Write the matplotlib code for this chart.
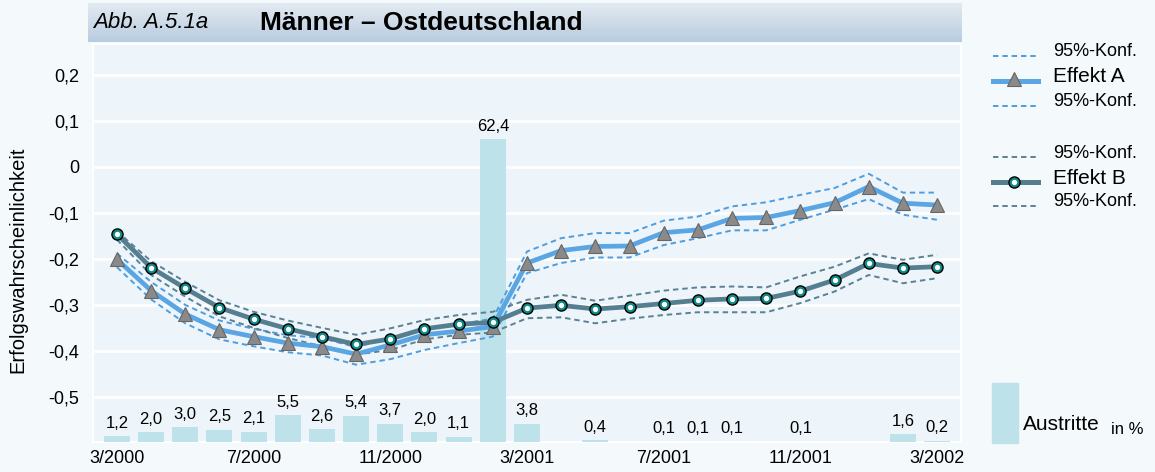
import numpy as np
import matplotlib.pyplot as plt
from matplotlib.colors import LinearSegmentedColormap
from matplotlib.patches import Rectangle

plt.rcParams['font.family'] = ['Liberation Sans', 'DejaVu Sans']

# figure size in pixels (dpi 100)
W, H = 1155, 472

# monthly points 3/2000 ... 3/2002
n_months = 25
tick_labels = ["3/2000", "7/2000", "11/2000", "3/2001", "7/2001", "11/2001", "3/2002"]

# Austritte in % (nan = no bar)
austritte = [1.2, 2.0, 3.0, 2.5, 2.1, 5.5, 2.6, 5.4, 3.7, 2.0, 1.1, 62.4, 3.8, np.nan,
             0.4, np.nan, 0.1, 0.1, 0.1, np.nan, 0.1, np.nan, np.nan, 1.6, 0.2]

# Effekt A and its 95% confidence band
effekt_a = [-0.201, -0.269, -0.320, -0.354, -0.369, -0.383, -0.391, -0.407, -0.387, -0.365,
            -0.357, -0.347, -0.209, -0.182, -0.173, -0.172, -0.143, -0.137, -0.112, -0.110,
            -0.095, -0.078, -0.043, -0.079, -0.083]
a_upper = [-0.188, -0.250, -0.300, -0.334, -0.352, -0.366, -0.372, -0.392, -0.372, -0.350,
           -0.342, -0.330, -0.184, -0.155, -0.144, -0.144, -0.117, -0.108, -0.086, -0.077,
           -0.061, -0.046, -0.015, -0.056, -0.056]
a_lower = [-0.218, -0.288, -0.340, -0.375, -0.390, -0.403, -0.410, -0.430, -0.418, -0.398,
           -0.383, -0.369, -0.231, -0.209, -0.197, -0.197, -0.170, -0.155, -0.138, -0.138,
           -0.115, -0.093, -0.070, -0.104, -0.115]

# Effekt B and its 95% confidence band
effekt_b = [-0.146, -0.219, -0.264, -0.306, -0.331, -0.352, -0.369, -0.386, -0.374, -0.352,
            -0.342, -0.338, -0.307, -0.301, -0.309, -0.304, -0.297, -0.290, -0.287, -0.286,
            -0.270, -0.246, -0.210, -0.220, -0.217]
b_upper = [-0.140, -0.205, -0.250, -0.290, -0.315, -0.334, -0.350, -0.365, -0.351, -0.333,
           -0.322, -0.315, -0.289, -0.278, -0.291, -0.280, -0.269, -0.262, -0.260, -0.262,
           -0.238, -0.217, -0.188, -0.202, -0.191]
b_lower = [-0.158, -0.235, -0.282, -0.325, -0.350, -0.372, -0.390, -0.408, -0.398, -0.375,
           -0.365, -0.360, -0.329, -0.327, -0.340, -0.330, -0.322, -0.316, -0.316, -0.316,
           -0.296, -0.271, -0.235, -0.253, -0.242]

yticks = [-0.5, -0.4, -0.3, -0.2, -0.1, 0, 0.1, 0.2]
ytick_labels = ["-0,5", "-0,4", "-0,3", "-0,2", "-0,1", "0", "0,1", "0,2"]

# colours
fig_bg = '#f4f9fc'
plot_bg = '#edf5fa'
bar_col = '#bde2ea'
a_col = '#5aa5e3'
a_ci_col = '#4d9de0'
b_col = '#557e91'
b_ci_col = '#5a8194'
circle_col = '#0f8a85'


def rect(x0, y0, x1, y1):
    # pixel box -> figure fraction
    return [x0 / W, 1 - y1 / H, (x1 - x0) / W, (y1 - y0) / H]


x = np.arange(n_months)
fig = plt.figure(figsize=(W / 100, H / 100), dpi=100, facecolor=fig_bg)

# background axes: grid + tick labels
ax = fig.add_axes(rect(93, 44, 961, 442))
ax.set_facecolor(plot_bg)
ax.set_xlim(-0.7, 24.7)
ax.set_ylim(-0.598, 0.267)
ax.set_yticks(yticks)
ax.set_yticklabels(ytick_labels, fontsize=13)
ax.set_xticks(x[::4])
ax.set_xticklabels(tick_labels, fontsize=13)
ax.tick_params(length=0)
ax.tick_params(axis='y', pad=10)
ax.tick_params(axis='x', pad=6)
ax.grid(axis='y', color='white', lw=1.8)
ax.grid(axis='x', visible=False)
for s in ax.spines.values():
    s.set_color('white')
    s.set_linewidth(1.5)

# bars (percent scale)
axb = ax.twinx()
axb.set_ylim(0, 82)
axb.bar(x, austritte, width=0.76, color=bar_col, zorder=2)
for i, v in enumerate(austritte):
    if not np.isnan(v):
        axb.annotate(f"{v:.1f}".replace('.', ','), (i, v), xytext=(0, 4),
                     textcoords='offset points', ha='center', va='bottom', fontsize=12)
axb.axis('off')

# lines
axl = ax.twinx()
axl.set_ylim(ax.get_ylim())
axl.axis('off')
dash = (0, (2.8, 2.0))
axl.plot(x, a_upper, color=a_ci_col, lw=1.4, ls=dash)
axl.plot(x, a_lower, color=a_ci_col, lw=1.4, ls=dash)
axl.plot(x, b_upper, color=b_ci_col, lw=1.4, ls=dash)
axl.plot(x, b_lower, color=b_ci_col, lw=1.4, ls=dash)
axl.plot(x, effekt_a, color=a_col, lw=3.4, marker='^', ms=9.5,
         mfc='#8a8a8a', mec='#666666', mew=0.8)
axl.plot(x, effekt_b, color=b_col, lw=3.4, marker='o', ms=8,
         mfc=circle_col, mec='black', mew=1.0)
axl.plot(x, effekt_b, ls='none', marker='o', ms=3.8, mfc='white', mec='none')

# title box with gradient
tb = fig.add_axes(rect(88, 3, 962, 42))
grad = np.linspace(0, 1, 100).reshape(-1, 1)
cmap = LinearSegmentedColormap.from_list('tb', ['#e3eaf1', '#b8cce0'])
tb.imshow(grad, aspect='auto', cmap=cmap, extent=[0, 1, 0, 1])
tb.axis('off')
fig.text(93 / W, 1 - 23 / H, "Abb. A.5.1a", fontsize=16, style='italic', va='center')
fig.text(260 / W, 1 - 23 / H, "Männer – Ostdeutschland", fontsize=19,
         fontweight='bold', va='center')

# y axis label
fig.text(18 / W, 1 - 260 / H, "Erfolgswahrscheinlichkeit", fontsize=14.5,
         rotation=90, ha='center', va='center')

# legend drawn in pixel space on the right
lg = fig.add_axes([0, 0, 1, 1])
lg.set_xlim(0, W)
lg.set_ylim(H, 0)
lg.axis('off')
lg.patch.set_visible(False)
rows = [
    (56, a_ci_col, 'ci', "95%-Konf."),
    (81, a_col, 'A', "Effekt A"),
    (106, a_ci_col, 'ci', "95%-Konf."),
    (157, b_ci_col, 'ci', "95%-Konf."),
    (182, b_col, 'B', "Effekt B"),
    (206, b_ci_col, 'ci', "95%-Konf."),
]
for y, col, kind, label in rows:
    if kind == 'ci':
        lg.plot([993, 1038], [y, y], color=col, lw=1.4, ls=dash)
        lg.text(1053, y - 4, label, fontsize=13, va='center')
    else:
        lg.plot([993, 1038], [y, y], color=col, lw=3.6)
        if kind == 'A':
            lg.plot([1014], [y - 2], marker='^', ms=9.5, mfc='#8a8a8a', mec='#666666', mew=0.8)
        else:
            lg.plot([1014], [y], marker='o', ms=8, mfc=circle_col, mec='black', mew=1.0)
            lg.plot([1014], [y], marker='o', ms=3.8, mfc='white', mec='none')
        lg.text(1053, y - 4, label, fontsize=15, va='center')

lg.add_patch(Rectangle((992, 383), 26, 60, color=bar_col))
lg.text(1023, 430, "Austritte", fontsize=15, va='baseline')
lg.text(1111, 434, "in %", fontsize=12, va='baseline')

fig.savefig('out.png', dpi=100, facecolor=fig_bg)
